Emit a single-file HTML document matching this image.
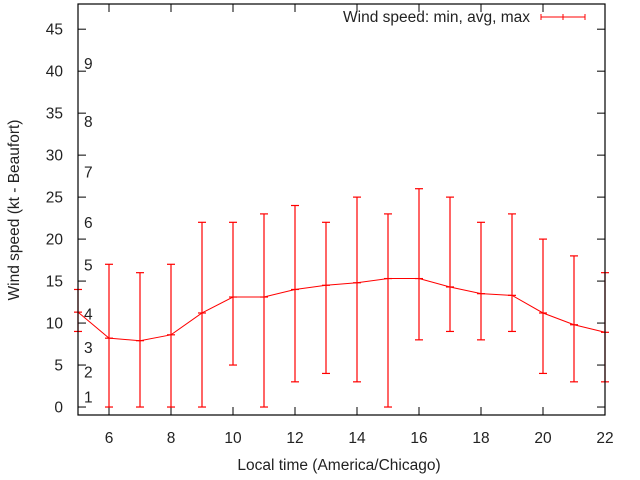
<!DOCTYPE html>
<html><head><meta charset="utf-8"><style>
body{margin:0;background:#fff;}
svg{display:block;font-family:"Liberation Sans",sans-serif;}
</style></head><body>
<svg id="chart" width="640" height="480" viewBox="0 0 640 480">
<g id="grid"></g>
<g id="series"></g>
<rect x="78" y="4" width="527" height="411" fill="none" stroke="#000" stroke-width="1.2"/>
<text transform="translate(19,210) rotate(-90)" text-anchor="middle" font-size="15.5" fill="#222">Wind speed (kt - Beaufort)</text>
<text x="339" y="470" text-anchor="middle" font-size="15.5" fill="#222">Local time (America/Chicago)</text>
<g>
<text x="530" y="22" text-anchor="end" font-size="15.5" fill="#222">Wind speed: min, avg, max</text>
<line x1="541" y1="17" x2="585" y2="17" stroke="red"/>
<line x1="541" y1="14" x2="541" y2="20" stroke="red"/>
<line x1="563" y1="14" x2="563" y2="20" stroke="red"/>
<line x1="585" y1="14" x2="585" y2="20" stroke="red"/>
</g>
</svg>
<script>
const hours=[5,6,7,8,9,10,11,12,13,14,15,16,17,18,19,20,21,22];
const avgSpeed=[11.3,8.2,7.9,8.6,11.2,13.1,13.1,14.0,14.5,14.8,15.3,15.3,14.3,13.5,13.3,11.2,9.8,8.9];
const minSpeed=[9,0,0,0,0,5,0,3,4,3,0,8,9,8,9,4,3,3];
const maxSpeed=[14,17,16,17,22,22,23,24,22,25,23,26,25,22,23,20,18,16];
const yTicks=[0,5,10,15,20,25,30,35,40,45];
const xTicks=[6,8,10,12,14,16,18,20,22];
const beaufortLabels=["1","2","3","4","5","6","7","8","9"];
const beaufortLevels=[1.2,4.2,7.1,11.1,16.9,22.0,28.0,34.0,40.9];
const NS="http://www.w3.org/2000/svg";
const X0=78,X1=605,Y0=415,Y1=4,xmin=5,xmax=22,ymin=-0.95,ymax=48;
const xs=v=>X0+(v-xmin)/(xmax-xmin)*(X1-X0);
const ys=v=>Y0-(v-ymin)/(ymax-ymin)*(Y0-Y1);
function mk(tag,attrs,parent){const e=document.createElementNS(NS,tag);for(const k in attrs)e.setAttribute(k,attrs[k]);parent.appendChild(e);return e;}
const grid=document.getElementById('grid'),ser=document.getElementById('series');
yTicks.forEach(t=>{const y=ys(t);
 const l=mk('line',{x1:X0,y1:y,x2:X0+8,y2:y,stroke:'#000'},grid);
 
 
 const r=mk('line',{x1:X1-8,y1:y,x2:X1,y2:y,stroke:'#000'},grid);
 
 
 const tx=mk('text',{x:X0-15,y:y+5.5,'text-anchor':'end','font-size':15.5,fill:'#222'},grid);
 tx.textContent=t;
 
 });
xTicks.forEach(t=>{const x=xs(t);
 const l=mk('line',{x1:x,y1:Y0,x2:x,y2:Y0-8,stroke:'#000'},grid);
 
 
 const r=mk('line',{x1:x,y1:Y1,x2:x,y2:Y1+8,stroke:'#000'},grid);
 
 
 const tx=mk('text',{x:x,y:Y0+28,'text-anchor':'middle','font-size':15.5,fill:'#222'},grid);
 tx.textContent=t;
 
 });
beaufortLabels.forEach((b,i)=>{const tx=mk('text',{x:84,y:ys(beaufortLevels[i])+5.5,'font-size':15.5,fill:'#222'},grid);
 tx.textContent=b;
 
 });
const pts=hours.map((h,i)=>xs(h)+','+ys(avgSpeed[i])).join(' ');
const pl=mk('polyline',{points:pts,fill:'none',stroke:'red','stroke-width':1},ser);


hours.forEach((h,i)=>{const x=xs(h);const g=mk('g',{stroke:'red','stroke-width':1.2},ser);
 
 
 mk('line',{x1:x,y1:ys(minSpeed[i]),x2:x,y2:ys(maxSpeed[i])},g);
 [minSpeed[i],maxSpeed[i],avgSpeed[i]].forEach(v=>mk('line',{x1:x-4,y1:ys(v),x2:x+4,y2:ys(v)},g));});
</script>
</body></html>
